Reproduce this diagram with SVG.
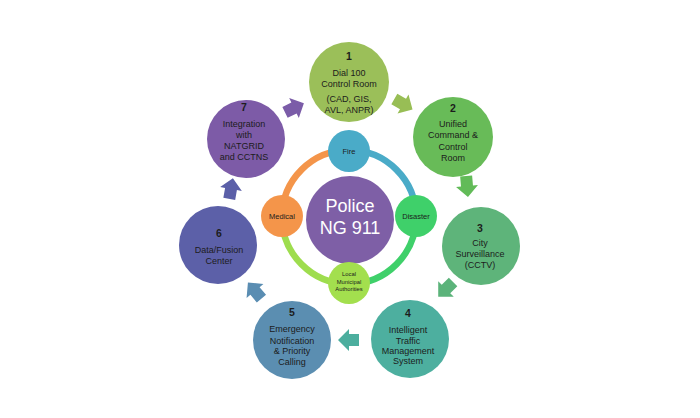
<svg xmlns="http://www.w3.org/2000/svg" width="700" height="418" viewBox="0 0 700 418">
<style>
text{font-family:"Liberation Sans",Arial,sans-serif;text-anchor:middle;fill:#1c1c1c}
.t{font-size:9px}
.n{font-size:10.5px;font-weight:bold}
.s{font-size:7.5px}
.xs{font-size:5.8px}
.c{font-size:18px;fill:#ffffff}
.ring{fill:none;stroke-width:6.5}
</style>
<defs>
<path id="arr" d="M -10,-6 L 0,-6 L 0,-11 L 11,0 L 0,11 L 0,6 L -10,6 Z"/>
</defs>
<rect width="700" height="418" fill="#ffffff"/>
<g id="connectors">
<use href="#arr" fill="#7B5CA8" transform="translate(294,108) rotate(-26)"/>
<use href="#arr" fill="#98BE55" transform="translate(403,104) rotate(30)"/>
<use href="#arr" fill="#62BB58" transform="translate(467,186) rotate(85)"/>
<use href="#arr" fill="#5BB37A" transform="translate(446,289) rotate(135)"/>
<use href="#arr" fill="#4CAE9E" transform="translate(349,340) rotate(180)"/>
<use href="#arr" fill="#5A8DB2" transform="translate(255,291) rotate(230)"/>
<use href="#arr" fill="#5B5FA8" transform="translate(231,189) rotate(-80)"/>
<path class="ring" stroke="#4AABC8" d="M 349 150 A 67 67 0 0 1 416 217"/>
<path class="ring" stroke="#3FD06A" d="M 416 217 A 67 67 0 0 1 349 284"/>
<path class="ring" stroke="#9EDD4E" d="M 349 284 A 67 67 0 0 1 282 217"/>
<path class="ring" stroke="#F4954A" d="M 282 217 A 67 67 0 0 1 349 150"/>
</g>
<g id="center">
<circle cx="350" cy="220" r="44" fill="#7E5FA6"/>
<text class="c" x="350" y="212">Police</text>
<text class="c" x="350" y="234">NG 911</text>
</g>
<g id="fire">
<circle cx="349" cy="151" r="21" fill="#4AABC8"/>
<text class="s" x="349" y="153.5">Fire</text>
</g>
<g id="disaster">
<circle cx="416" cy="216" r="21" fill="#3FD06A"/>
<text class="s" x="416" y="218.5">Disaster</text>
</g>
<g id="local">
<circle cx="349" cy="283" r="21" fill="#A3DF4E"/>
<text class="xs" x="349" y="276">Local</text>
<text class="xs" x="349" y="283.5">Municipal</text>
<text class="xs" x="349" y="291">Authorities</text>
</g>
<g id="medical">
<circle cx="282" cy="216" r="21" fill="#F4954A"/>
<text class="s" x="282" y="218.5">Medical</text>
</g>
<g id="node1">
<circle cx="349" cy="82" r="40" fill="#9BBF59"/>
<text class="n" x="349" y="60">1</text>
<text class="t" x="349" y="76">Dial 100</text>
<text class="t" x="349" y="87">Control Room</text>
<text class="t" x="349" y="102">(CAD, GIS,</text>
<text class="t" x="349" y="113">AVL, ANPR)</text>
</g>
<g id="node2">
<circle cx="453" cy="137" r="40" fill="#68BB58"/>
<text class="n" x="453" y="112">2</text>
<text class="t" x="453" y="127">Unified</text>
<text class="t" x="453" y="138">Command &amp;</text>
<text class="t" x="453" y="150">Control</text>
<text class="t" x="453" y="161">Room</text>
</g>
<g id="node3">
<circle cx="481" cy="246" r="39" fill="#5EB47A"/>
<text class="n" x="480" y="232">3</text>
<text class="t" x="480" y="246">City</text>
<text class="t" x="480" y="257">Surveillance</text>
<text class="t" x="480" y="268">(CCTV)</text>
</g>
<g id="node4">
<circle cx="410" cy="339" r="39" fill="#4DAF9F"/>
<text class="n" x="408" y="317">4</text>
<text class="t" x="408" y="333">Intelligent</text>
<text class="t" x="408" y="344">Traffic</text>
<text class="t" x="408" y="354">Management</text>
<text class="t" x="408" y="364">System</text>
</g>
<g id="node5">
<circle cx="292" cy="340" r="39" fill="#5B8EB1"/>
<text class="n" x="292" y="316">5</text>
<text class="t" x="292" y="332">Emergency</text>
<text class="t" x="292" y="344">Notification</text>
<text class="t" x="292" y="354">&amp; Priority</text>
<text class="t" x="292" y="365">Calling</text>
</g>
<g id="node6">
<circle cx="218" cy="245" r="39" fill="#5C60A8"/>
<text class="n" x="219" y="237">6</text>
<text class="t" x="219" y="253">Data/Fusion</text>
<text class="t" x="219" y="264">Center</text>
</g>
<g id="node7">
<circle cx="246" cy="139" r="39" fill="#7D5BA7"/>
<text class="n" x="244" y="111">7</text>
<text class="t" x="244" y="127">Integration</text>
<text class="t" x="244" y="138">with</text>
<text class="t" x="244" y="149">NATGRID</text>
<text class="t" x="244" y="160">and CCTNS</text>
</g>
</svg>
